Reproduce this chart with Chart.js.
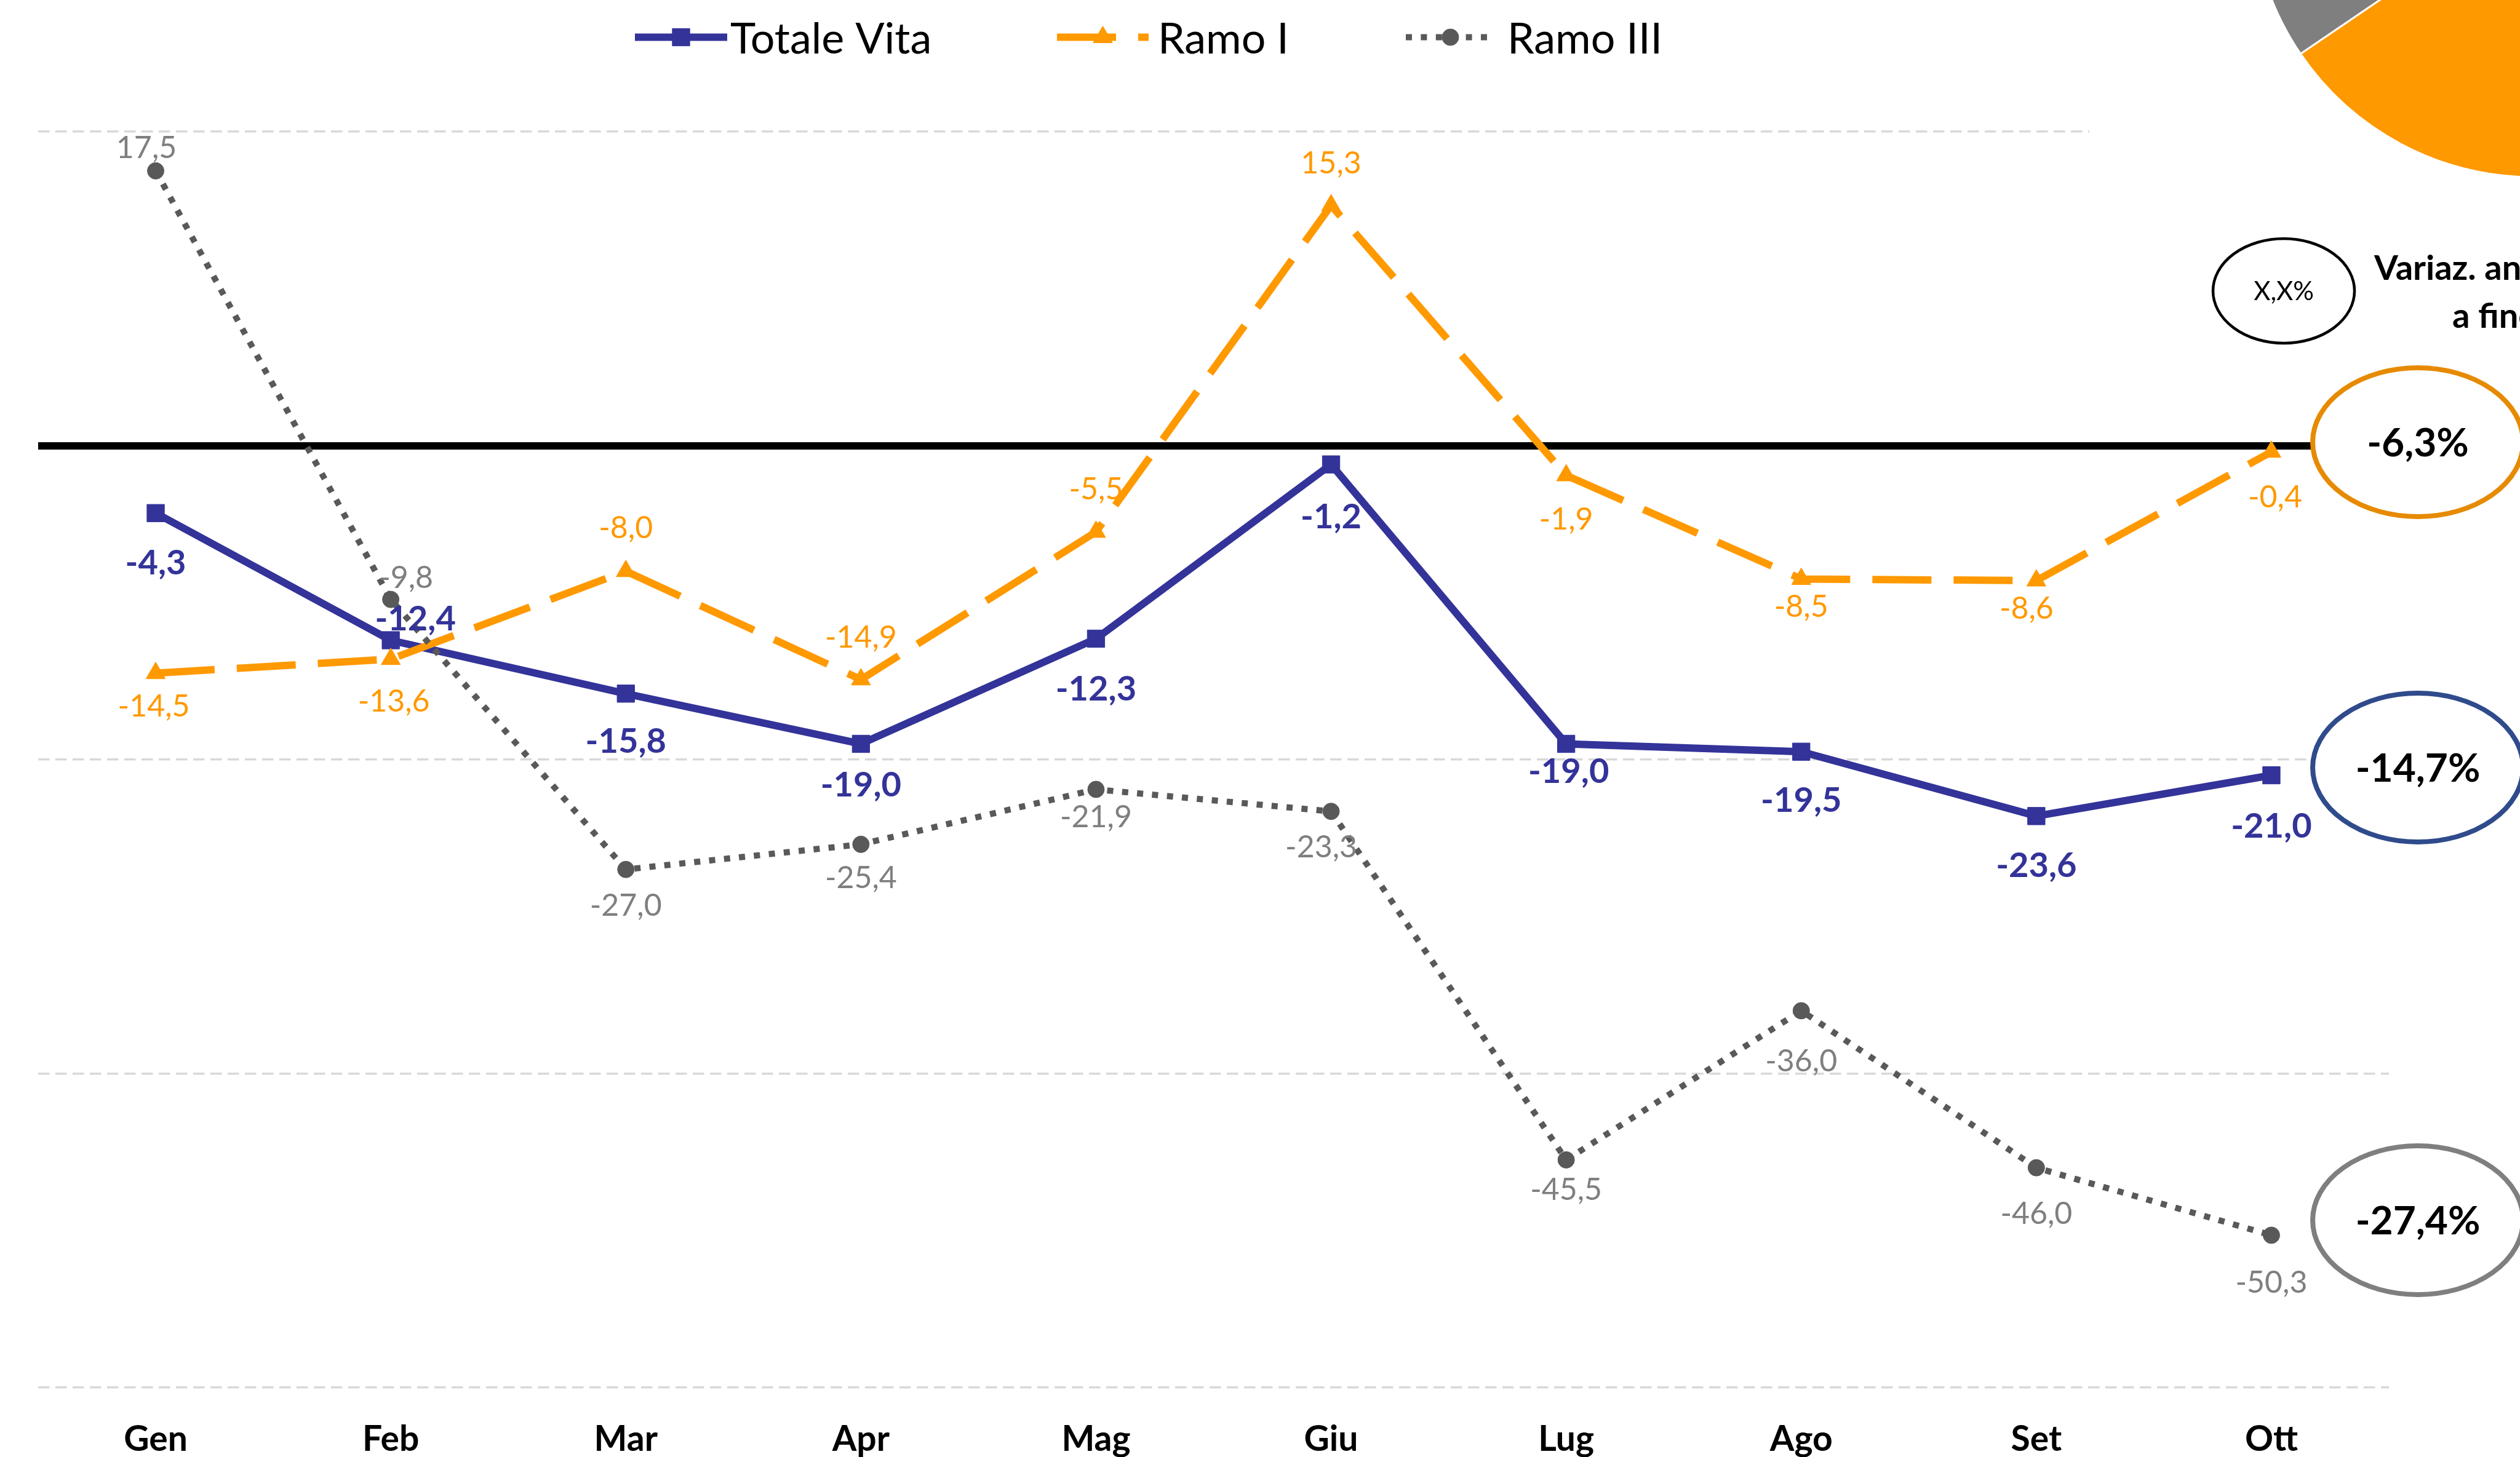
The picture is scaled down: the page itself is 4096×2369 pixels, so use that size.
<!DOCTYPE html>
<html lang="it">
<head>
<meta charset="utf-8">
<title>Vita - variazioni mensili</title>
<script src="https://cdn.jsdelivr.net/npm/chart.js@4.4.1/dist/chart.umd.min.js"></script>
<style>
    html, body { margin: 0; padding: 0; background: #fff; overflow: hidden; }
    #wrap { position: relative; width: 4096px; height: 2369px; overflow: hidden; background: #fff; }
    #main { position: absolute; left: 0; top: 0; }
    #pie-frame { position: absolute; left: 3396px; top: 0; width: 700px; height: 330px; background: #fff; }
    #pie { position: absolute; left: 3650px; top: -638px; }
</style>
</head>
<body>
<div id="wrap">
    <canvas id="main" width="4096" height="2369"></canvas>
    <div id="pie-frame"></div>
    <canvas id="pie" width="936" height="936"></canvas>
</div>
<script>
// dati mensili (variazione %)
const months = ['Gen', 'Feb', 'Mar', 'Apr', 'Mag', 'Giu', 'Lug', 'Ago', 'Set', 'Ott'];
const totaleVita = [-4.3, -12.4, -15.8, -19.0, -12.3, -1.2, -19.0, -19.5, -23.6, -21.0];
const ramoI = [-14.5, -13.6, -8.0, -14.9, -5.5, 15.3, -1.9, -8.5, -8.6, -0.4];
const ramoIII = [17.5, -9.8, -27.0, -25.4, -21.9, -23.3, -45.5, -36.0, -46.0, -50.3];
const yMin = -60;
const yMax = 20;
const yStep = 20;

// variazione annua a fine periodo: Ramo I, Totale Vita, Ramo III
const annualChange = [-6.3, -14.7, -27.4];

// composizione (torta in alto a destra)
const pieLabels = ['Ramo I', 'Ramo III'];
const pieShares = [65.5, 34.5];

const NAVY = '#333399';
const ORANGE = '#FF9900';
const GREY = '#595959';

const fmt = v => v.toFixed(1).replace('.', ',');

// spostamento delle etichette rispetto al punto [dx, dy]
const totaleOffsets = [[0, 80], [40, -36], [0, 76], [0, 66], [0, 81], [0, 84], [4, 44], [0, 78], [0, 79], [0, 81]];
const ramoIOffsets = [[-3, 52], [5, 67], [0, -72], [0, -70], [0, -71], [0, -70], [0, 70], [0, 44], [-16, 44], [6, 72]];
const ramoIIIOffsets = [[-15, -39], [25, -37], [0, 57], [0, 53], [0, 44], [-16, 57], [0, 47], [0, 81], [0, 73], [0, 76]];

const labelStyles = [
    { font: 'bold 56px Lato', color: NAVY, cap: 40, offsets: totaleOffsets },
    { font: '50px Lato', color: ORANGE, cap: 36, offsets: ramoIOffsets },
    { font: '50px Lato', color: '#7F7F7F', cap: 36, offsets: ramoIIIOffsets }
];

const legendSlots = [
    { x0: 1032, x1: 1182, textX: 1187 },
    { x0: 1718, x1: 1867, textX: 1882 },
    { x0: 2285, x1: 2430, textX: 2450 }
];
const LEGEND_Y = 60.5;
const LEGEND_BASE = 86.5;

// ovali con la variazione annua
const ovals = [
    { cx: 3930, cy: 719, color: '#E68A00' },
    { cx: 3930, cy: 1248, color: '#2F4B8C' },
    { cx: 3930, cy: 1984, color: '#7F7F7F' }
];

const valueLabels = {
    id: 'valueLabels',
    afterDatasetsDraw(chart) {
        const ctx = chart.ctx;
        chart.data.datasets.forEach((ds, i) => {
            const style = labelStyles[i];
            const meta = chart.getDatasetMeta(i);
            ctx.save();
            ctx.font = style.font;
            ctx.fillStyle = style.color;
            ctx.textAlign = 'center';
            ctx.textBaseline = 'alphabetic';
            meta.data.forEach((pt, j) => {
                const [dx, dy] = style.offsets[j];
                ctx.fillText(fmt(ds.data[j]), pt.x + dx, pt.y + dy + style.cap / 2);
            });
            ctx.restore();
        });
    }
};

const lineLegend = {
    id: 'lineLegend',
    afterDraw(chart) {
        const ctx = chart.ctx;
        legendSlots.forEach((slot, i) => {
            const ds = chart.data.datasets[i];
            ctx.save();
            ctx.strokeStyle = ds.borderColor;
            ctx.lineWidth = ds.borderWidth;
            ctx.lineCap = 'butt';
            ctx.setLineDash(ds.borderDash || []);
            ctx.beginPath();
            ctx.moveTo(slot.x0, LEGEND_Y);
            ctx.lineTo(slot.x1, LEGEND_Y);
            ctx.stroke();
            ctx.setLineDash([]);
            ctx.fillStyle = ds.pointBackgroundColor;
            ctx.strokeStyle = ds.pointBorderColor;
            ctx.lineWidth = 1;
            Chart.helpers.drawPoint(ctx, {
                pointStyle: ds.pointStyle,
                radius: ds.pointRadius,
                rotation: 0,
                borderWidth: 1
            }, (slot.x0 + slot.x1) / 2, LEGEND_Y);
            ctx.fillStyle = '#000';
            ctx.font = '70px Lato';
            ctx.textAlign = 'left';
            ctx.textBaseline = 'alphabetic';
            ctx.fillText(ds.label, slot.textX, LEGEND_BASE);
            ctx.restore();
        });
    }
};

const annualNotes = {
    id: 'annualNotes',
    afterDraw(chart) {
        const ctx = chart.ctx;
        ctx.save();
        // chiave
        ctx.beginPath();
        ctx.ellipse(3712, 473, 115, 85, 0, 0, Math.PI * 2);
        ctx.fillStyle = '#fff';
        ctx.fill();
        ctx.lineWidth = 4.5;
        ctx.strokeStyle = '#000';
        ctx.stroke();
        ctx.fillStyle = '#000';
        ctx.textAlign = 'center';
        ctx.textBaseline = 'alphabetic';
        ctx.font = '42px Lato';
        ctx.fillText('X,X%', 3712, 488);
        ctx.textAlign = 'left';
        ctx.font = 'bold 56px Lato';
        ctx.fillText('Variaz. annua', 3859, 455);
        ctx.fillText('a fine ottobre', 3986, 533);

        annualChange.forEach((v, i) => {
            const o = ovals[i];
            ctx.beginPath();
            ctx.ellipse(o.cx, o.cy, 171, 121, 0, 0, Math.PI * 2);
            ctx.fillStyle = '#fff';
            ctx.fill();
            ctx.lineWidth = 8;
            ctx.strokeStyle = o.color;
            ctx.stroke();
            ctx.fillStyle = '#000';
            ctx.textAlign = 'center';
            ctx.font = 'bold 64px Lato';
            ctx.fillText(fmt(v) + '%', o.cx, o.cy + 23);
        });
        ctx.restore();
    }
};

Chart.defaults.font.family = 'Lato';

const mainChart = new Chart(document.getElementById('main').getContext('2d'), {
    type: 'line',
    data: {
        labels: months,
        datasets: [
            {
                label: 'Totale Vita',
                data: totaleVita,
                borderColor: NAVY,
                backgroundColor: NAVY,
                borderWidth: 12,
                pointStyle: 'rect',
                pointRadius: 20,
                pointBackgroundColor: NAVY,
                pointBorderColor: NAVY,
                pointBorderWidth: 1,
                tension: 0,
                clip: false,
                order: 3
            },
            {
                label: 'Ramo I',
                data: ramoI,
                borderColor: ORANGE,
                backgroundColor: ORANGE,
                borderWidth: 12,
                borderDash: [96, 36],
                borderCapStyle: 'butt',
                pointStyle: 'triangle',
                pointRadius: 18,
                pointBackgroundColor: ORANGE,
                pointBorderColor: ORANGE,
                pointBorderWidth: 1,
                tension: 0,
                clip: false,
                order: 2
            },
            {
                label: 'Ramo III',
                data: ramoIII,
                borderColor: GREY,
                backgroundColor: GREY,
                borderWidth: 10,
                borderDash: [10, 14.4],
                borderCapStyle: 'butt',
                pointStyle: 'circle',
                pointRadius: 13.5,
                pointBackgroundColor: GREY,
                pointBorderColor: GREY,
                pointBorderWidth: 1,
                tension: 0,
                clip: false,
                order: 1
            }
        ]
    },
    options: {
        responsive: false,
        animation: false,
        devicePixelRatio: 1,
        events: [],
        layout: { padding: { left: 62, right: 213, top: 214, bottom: 0 } },
        plugins: {
            legend: { display: false },
            tooltip: { enabled: false }
        },
        scales: {
            x: {
                offset: true,
                grid: { display: false, drawTicks: false },
                border: { display: false },
                ticks: {
                    color: '#000',
                    font: { family: 'Lato', size: 57, weight: 'bold' },
                    padding: 50,
                    maxRotation: 0,
                    autoSkip: false
                },
                afterFit: s => { s.height = 113; }
            },
            y: {
                min: yMin,
                max: yMax,
                ticks: { display: false, stepSize: yStep },
                grid: {
                    drawTicks: false,
                    color: c => (c.tick && c.tick.value === 0) ? '#000' : '#D9D9D9',
                    lineWidth: c => (c.tick && c.tick.value === 0) ? 12 : 3.5
                },
                border: {
                    display: false,
                    dash: c => (c.tick && c.tick.value === 0) ? [] : [18.5, 9.5]
                },
                afterFit: s => { s.width = 0; }
            }
        }
    },
    plugins: [valueLabels, lineLegend, annualNotes]
});

const pieChart = new Chart(document.getElementById('pie').getContext('2d'), {
    type: 'pie',
    data: {
        labels: pieLabels,
        datasets: [{
            data: pieShares,
            backgroundColor: [ORANGE, '#7F7F7F'],
            borderColor: '#fff',
            borderWidth: 3,
            hoverOffset: 0
        }]
    },
    options: {
        responsive: false,
        animation: false,
        devicePixelRatio: 1,
        events: [],
        radius: 458,
        layout: { padding: 0 },
        plugins: {
            legend: { display: false },
            tooltip: { enabled: false }
        }
    }
});
</script>
</body>
</html>
